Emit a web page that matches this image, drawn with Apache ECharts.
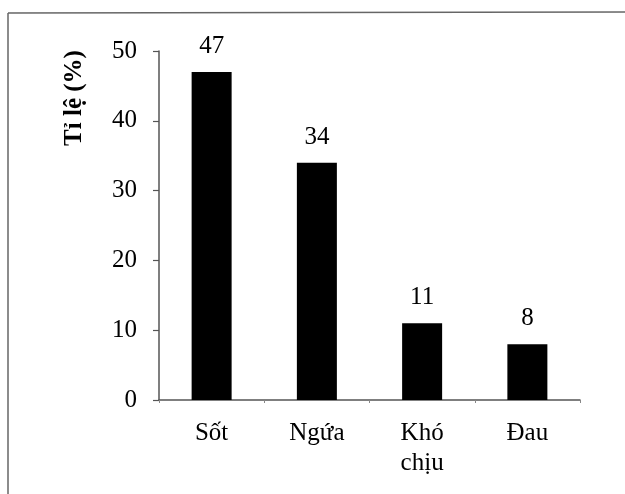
<!DOCTYPE html>
<html>
<head>
<meta charset="utf-8">
<script src="https://cdn.jsdelivr.net/npm/echarts@6/dist/echarts.min.js"></script>
<style>html,body{margin:0;padding:0;background:#fff;}#c{width:625px;height:494px;}</style>
</head>
<body>
<div id="c"></div>
<script>
var categories = ['Sốt', 'Ngứa', 'Khó\nchịu', 'Đau'];
var values = [47, 34, 11, 8];
var yTicks = [0, 10, 20, 30, 40, 50];

var chart = echarts.init(document.getElementById('c'), null, {renderer: 'canvas'});
var font = '"Liberation Serif", "DejaVu Serif", serif';
chart.setOption({
  animation: false,
  backgroundColor: '#fff',
  grid: {left: 159, right: 45, top: 51, bottom: 94},
  xAxis: {
    type: 'category',
    data: categories,
    axisLine: {lineStyle: {color: '#555', width: 1.5}},
    axisTick: {show: true, alignWithLabel: false, length: 3, lineStyle: {color: '#888'}},
    axisLabel: {color: '#000', fontFamily: font, fontSize: 25, margin: 18, lineHeight: 30}
  },
  yAxis: {
    type: 'value',
    min: yTicks[0],
    max: yTicks[yTicks.length - 1],
    interval: 10,
    splitLine: {show: false},
    axisLine: {show: true, lineStyle: {color: '#555', width: 1.5}},
    axisTick: {show: true, length: 6, lineStyle: {color: '#555', width: 1.2}},
    axisLabel: {color: '#000', fontFamily: font, fontSize: 25, margin: 22}
  },
  graphic: [
    {type: 'line', shape: {x1: 8, y1: 13, x2: 625, y2: 12}, style: {stroke: '#666', lineWidth: 1.5}},
    {type: 'line', shape: {x1: 8, y1: 13, x2: 8, y2: 494}, style: {stroke: '#666', lineWidth: 1.5}},
    {type: 'text', x: 75, y: 98, rotation: Math.PI / 2,
      style: {text: 'Tỉ lệ (%)', fontFamily: font, fontSize: 25, fontWeight: 'bold', fill: '#000', align: 'center', verticalAlign: 'middle'}}
  ],
  series: [{
    type: 'bar',
    data: values,
    barWidth: 40,
    itemStyle: {color: '#000'},
    label: {show: true, position: 'top', distance: 13, color: '#000', fontFamily: font, fontSize: 25}
  }]
});
</script>
</body>
</html>
